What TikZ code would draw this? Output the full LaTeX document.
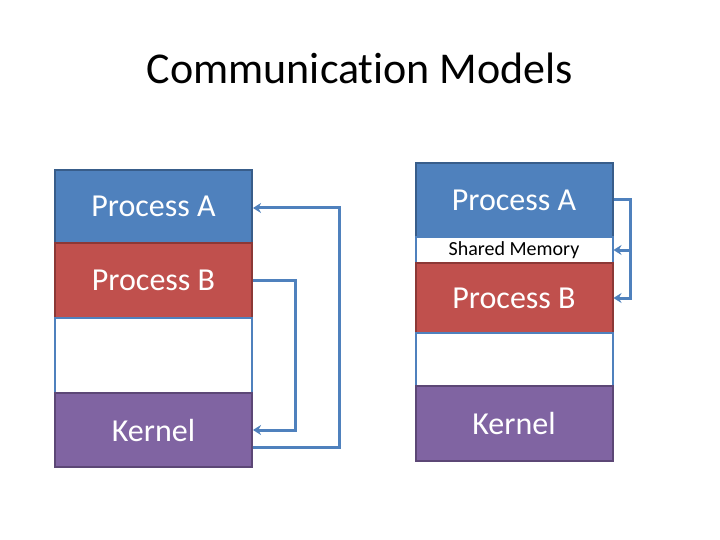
\documentclass[tikz,border=0pt]{standalone}
\usepackage{fontspec}
\setmainfont{Carlito}[Ligatures=NoCommon]
\usepackage{tikz}
\usetikzlibrary{arrows.meta,positioning}
\definecolor{blueA}{RGB}{79,129,189}
\definecolor{blueAline}{RGB}{56,93,138}
\definecolor{redB}{RGB}{192,80,77}
\definecolor{redBline}{RGB}{140,56,54}
\definecolor{purK}{RGB}{128,100,162}
\definecolor{purKline}{RGB}{92,71,118}
\tikzset{
  memrow/.style={ draw, rectangle, line width=2pt, minimum width=197pt, inner sep=0pt, font=\fontsize{32}{34}\selectfont }
}
\tikzset{
  procA/.style={ memrow, fill=blueA, draw=blueAline, text=white }
}
\tikzset{
  procB/.style={ memrow, fill=redB, draw=redBline, text=white }
}
\tikzset{
  kern/.style={ memrow, fill=purK, draw=purKline, text=white }
}
\tikzset{
  freemem/.style={ memrow, fill=white, draw=blueA }
}
\tikzset{
  link/.style={ draw=blueA, line width=3pt, -{Stealth[length=8pt,width=10pt]} }
}

\begin{document}
\begin{tikzpicture}[y=-1pt, x=1pt]
      \useasboundingbox (0,0) rectangle (720,540);
      \node[font=\fontsize{44}{48}\selectfont] (title) at (360,68) {Communication Models};
      % message passing
      \node[procA, minimum height=73pt] (lA) at (153.5,206.5) {Process A};
      \node[procB, minimum height=75pt] (lB) at (153.5,280.5) {Process B};
      \node[freemem, minimum height=75pt] (lF) at (153.5,355.5) {};
      \node[kern, minimum height=74pt] (lK) at (153.5,430) {Kernel};
      \draw[link] ([yshift=-17pt]lK.east) -- ++(86,0) |- ([yshift=-1.5pt]lA.east);
      \draw[link] (lB.east) -- ++(42,0) |- (lK.east);
      % shared memory
      \node[procA, minimum height=74pt] (rA) at (514,200) {Process A};
      \node[freemem, minimum height=26pt, font=\fontsize{20}{22}\selectfont] (rS) at (514,250) {Shared Memory};
      \node[procB, minimum height=70pt] (rB) at (514,298) {Process B};
      \node[freemem, minimum height=53pt] (rF) at (514,359.5) {};
      \node[kern, minimum height=75pt] (rK) at (514,423) {Kernel};
      \path (rA.east) ++(17,0) coordinate (rbus);
      \draw[link] (rA.east) -- (rbus) |- (rB.east);
      \draw[link] (rbus) |- (rS.east);
    \end{tikzpicture}
\end{document}
